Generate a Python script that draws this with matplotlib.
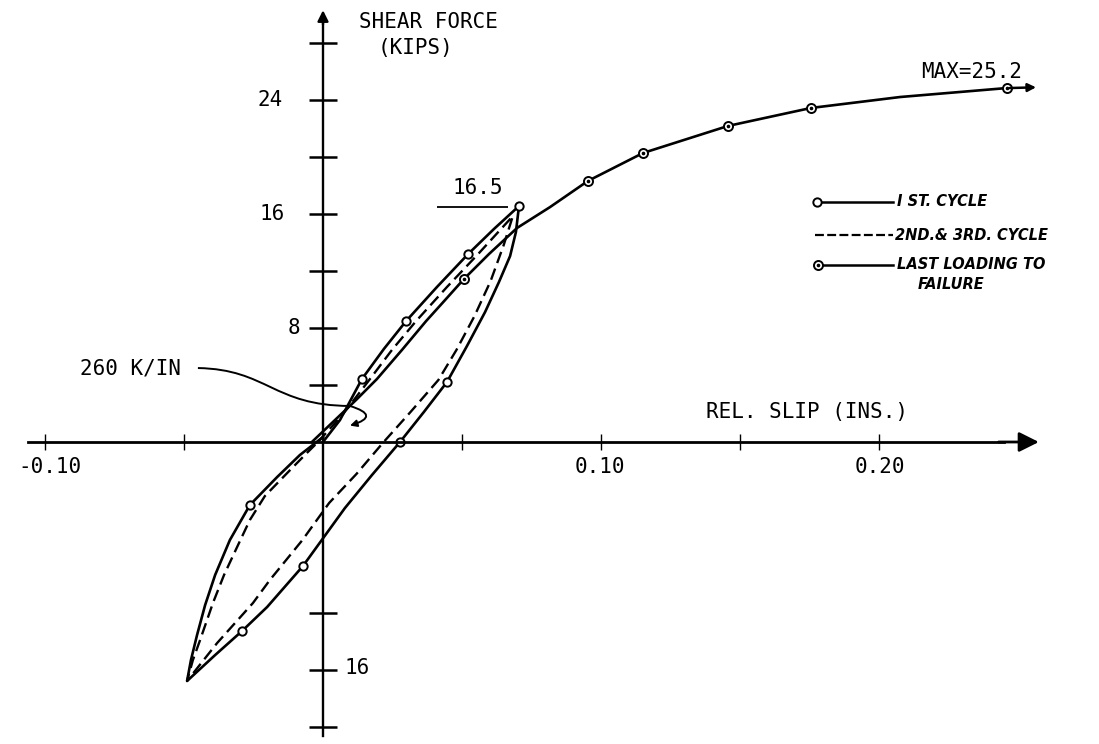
import matplotlib
matplotlib.use("Agg")
import matplotlib.pyplot as plt
from matplotlib.patches import Arc, PathPatch
from matplotlib.path import Path

# -----------------------------------
# Data (slip in inches, force in kips)
# -----------------------------------

# 1st cycle: load to peak, unload to negative peak, reload
cycle1_x = [0.0, 0.0061, 0.0140, 0.0219, 0.0299, 0.0410, 0.0522, 0.0615, 0.0705,
            0.0694, 0.0673, 0.0633, 0.0583, 0.0518, 0.0446, 0.0363, 0.0277,
            0.0176, 0.0079, -0.0072, -0.0201, -0.0291, -0.0388, -0.0489,
            -0.0475, -0.0453, -0.0424, -0.0388, -0.0335, -0.0263, -0.0165,
            -0.0083, 0.0]
cycle1_y = [0.0, 1.54, 4.42, 6.53, 8.49, 10.88, 13.19, 14.95, 16.56,
            14.74, 13.05, 11.23, 9.12, 6.74, 4.21, 2.11, 0.0,
            -2.32, -4.63, -8.70, -11.58, -13.26, -14.95, -16.77,
            -15.30, -13.54, -11.44, -9.33, -6.88, -4.42, -2.46,
            -0.91, 0.35]
cycle1_marks = [2, 4, 6, 8, 14, 16, 19, 21, 29]

# 2nd & 3rd cycles
cycle23_x = [-0.0018, 0.0072, 0.0169, 0.0248, 0.0335, 0.0446, 0.0558, 0.0683,
             0.0650, 0.0603, 0.0545, 0.0480, 0.0415, 0.0315, 0.0215, 0.0120,
             0.0022, -0.0074, -0.0191, -0.0252, -0.0381, -0.0489,
             -0.0468, -0.0442, -0.0396, -0.0356, -0.0309, -0.0263, -0.0209,
             -0.0129, -0.0058, -0.0018]
cycle23_y = [0.0, 1.96, 4.42, 6.46, 8.49, 10.88, 13.19, 15.86,
             13.82, 11.30, 8.84, 6.46, 4.35, 2.11, -0.07, -2.25,
             -4.28, -6.88, -9.68, -11.30, -14.11, -16.77,
             -15.30, -13.89, -11.30, -9.33, -7.37, -5.47, -3.79,
             -2.18, -0.77, 0.0]

# last loading to failure
last_x = [-0.0040, 0.0043, 0.0119, 0.0194, 0.0284, 0.0371, 0.0439, 0.0507,
          0.0597, 0.0698, 0.0817, 0.0953, 0.1151, 0.1457, 0.1755, 0.2076, 0.2460]
last_y = [0.0, 1.54, 2.95, 4.42, 6.46, 8.49, 9.96, 11.44,
          13.19, 15.02, 16.49, 18.32, 20.28, 22.18, 23.44, 24.21, 24.84]
last_marks = [7, 11, 12, 13, 14, 16]

peak_load = 16.5
max_load = 25.2

x_ticks = [-0.10, -0.05, 0.05, 0.10, 0.15, 0.20]
x_labels = ["-0.10", "0.10", "0.20"]
x_label_pos = [-0.0982, 0.0996, 0.2004]
y_ticks = [-20, -16, -12, 4, 8, 12, 16, 20, 24, 28]

# -----------------------------------
# Figure
# -----------------------------------

fig = plt.figure(figsize=(10.99, 7.44), dpi=100)
ax = fig.add_axes([0, 0, 1, 1])

ax.set_xlim(-0.11619, 0.27914)
ax.set_ylim(-21.193, 31.018)

for side in ["top", "right"]:
    ax.spines[side].set_visible(False)
ax.spines["left"].set_position(("data", 0))
ax.spines["bottom"].set_position(("data", 0))
ax.spines["left"].set_bounds(-20.6, 29.5)
ax.spines["bottom"].set_bounds(-0.106, 0.245)
ax.spines["left"].set_linewidth(1.7)
ax.spines["bottom"].set_linewidth(2.0)

ax.set_xticks(x_ticks)
ax.set_yticks(y_ticks)
ax.tick_params(axis="x", direction="inout", length=12, width=1.0,
               labelbottom=False)
ax.tick_params(axis="y", direction="inout", length=20, width=1.8,
               labelleft=False)

# axis arrows
ax.annotate("", xy=(0.2575, 0), xytext=(0.243, 0),
            arrowprops=dict(arrowstyle="-|>", color="black", lw=2.0,
                            mutation_scale=30, shrinkA=0, shrinkB=0))
ax.annotate("", xy=(0, 30.3), xytext=(0, 29.3),
            arrowprops=dict(arrowstyle="-|>", color="black", lw=1.7,
                            mutation_scale=16, shrinkA=0, shrinkB=0))

# curves
ax.plot(cycle1_x, cycle1_y, color="black", lw=1.9,
        marker="o", markevery=cycle1_marks, markersize=6,
        markerfacecolor="white", markeredgewidth=1.4)

ax.plot(cycle23_x, cycle23_y, color="black", lw=1.7, dashes=(5, 2.5))

ax.plot(last_x, last_y, color="black", lw=1.9,
        marker="o", markevery=last_marks, markersize=6.5,
        markerfacecolor="white", markeredgewidth=1.4)
ax.plot([last_x[i] for i in last_marks], [last_y[i] for i in last_marks],
        linestyle="none", marker="o", markersize=1.6, color="black")
ax.annotate("", xy=(last_x[-1] + 0.0105, last_y[-1] + 0.05),
            xytext=(last_x[-1] + 0.001, last_y[-1]),
            arrowprops=dict(arrowstyle="-|>", color="black", lw=1.8,
                            mutation_scale=12, shrinkA=0, shrinkB=0))

# -----------------------------------
# Texts
# -----------------------------------

mono = dict(family="DejaVu Sans Mono", fontsize=15, color="black")

ax.text(0.0378, 29.47, "SHEAR FORCE", ha="center", va="center", **mono)
ax.text(0.0331, 27.65, "(KIPS)", ha="center", va="center", **mono)
ax.text(0.1741, 2.11, "REL. SLIP (INS.)", ha="center", va="center", **mono)

ax.text(-0.0144, 24, "24", ha="right", va="center", **mono)
ax.text(-0.0137, 16, "16", ha="right", va="center", **mono)
ax.text(-0.0083, 8, "8", ha="right", va="center", **mono)
ax.text(0.0079, -15.86, "16", ha="left", va="center", **mono)

for pos, lab in zip(x_label_pos, x_labels):
    ax.text(pos, -1.75, lab, ha="center", va="center", **mono)

ax.text(0.0558, 17.82, "%.1f" % peak_load, ha="center", va="center", **mono)
ax.hlines(peak_load, 0.0410, 0.0665, color="black", lw=1.3)
ax.text(0.2335, 25.96, "MAX=%.1f" % max_load, ha="center", va="center", **mono)

# stiffness annotation
ax.text(-0.0694, 5.19, "260 K/IN", ha="center", va="center", **mono)
leader = Path([(-0.0450, 5.19), (-0.0200, 5.10), (-0.0180, 2.55), (0.0097, 2.53)],
              [Path.MOVETO, Path.CURVE4, Path.CURVE4, Path.CURVE4])
ax.add_patch(PathPatch(leader, facecolor="none", edgecolor="black", lw=1.4))
ax.annotate("", xy=(0.0097, 1.15), xytext=(0.0097, 2.53),
            arrowprops=dict(arrowstyle="-|>", color="black", lw=1.4,
                            mutation_scale=10, shrinkA=0, shrinkB=0,
                            connectionstyle="arc3,rad=-1.6"))
ax.add_patch(Arc((0.0015, 0), 0.018, 3.51, theta1=0, theta2=52,
                 color="black", lw=1.2))

# -----------------------------------
# Legend (hand lettered)
# -----------------------------------

hand = dict(family="DejaVu Sans", fontsize=10.5, fontweight="bold",
            style="italic", color="black", transform=ax.transAxes,
            va="center", ha="left")

rows = [0.7285, 0.684, 0.644]
ax.plot([0.7434, 0.8126], [rows[0], rows[0]], color="black", lw=1.8,
        transform=ax.transAxes)
ax.plot([0.7434], [rows[0]], marker="o", markersize=6, markerfacecolor="white",
        markeredgecolor="black", markeredgewidth=1.4, transform=ax.transAxes)
ax.plot([0.7416, 0.8126], [rows[1], rows[1]], color="black", lw=1.6,
        dashes=(4, 1.5), transform=ax.transAxes)
ax.plot([0.7443, 0.8126], [rows[2], rows[2]], color="black", lw=1.8,
        transform=ax.transAxes)
ax.plot([0.7443], [rows[2]], marker="o", markersize=6.5, markerfacecolor="white",
        markeredgecolor="black", markeredgewidth=1.4, transform=ax.transAxes)
ax.plot([0.7443], [rows[2]], marker="o", markersize=1.6, color="black",
        transform=ax.transAxes)

ax.text(0.8162, rows[0], "I ST. CYCLE", **hand)
ax.text(0.8145, rows[1], "2ND.& 3RD. CYCLE", **hand)
ax.text(0.8162, rows[2], "LAST LOADING TO", **hand)
ax.text(0.8350, 0.617, "FAILURE", **hand)

fig.savefig("out.png", dpi=100)
